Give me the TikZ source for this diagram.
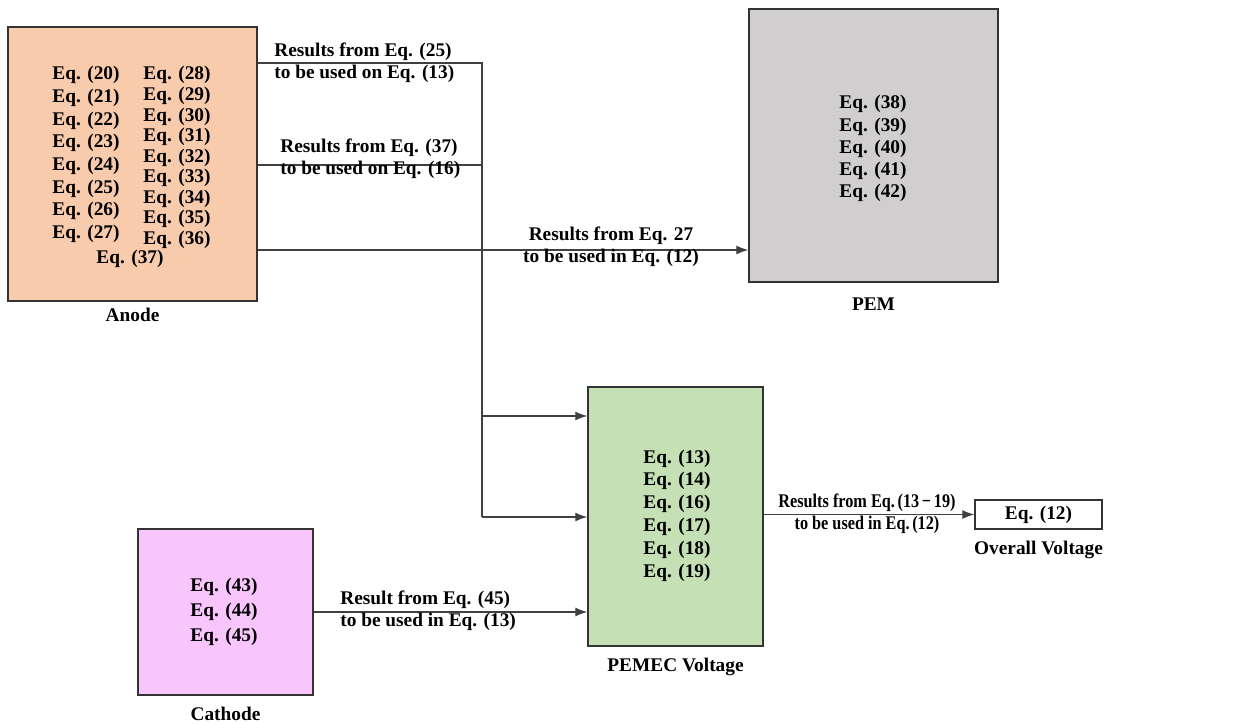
\documentclass[tikz,border=0pt]{standalone}
\usepackage{fontspec}
\setmainfont{Liberation Serif}
\usetikzlibrary{positioning,arrows.meta}

\definecolor{anodefill}{HTML}{F8CBAD}
\definecolor{pemfill}{HTML}{D0CECE}
\definecolor{pemecfill}{HTML}{C5E0B4}
\definecolor{cathfill}{HTML}{F9C5FD}

\tikzset{
  eqbox/.style={draw=black!80, line width=0.8pt, inner sep=0pt},
  eqlines/.style={font=\fontsize{11}{#1}\selectfont\bfseries, align=center, inner sep=0pt},
  boxname/.style={font=\fontsize{11}{13}\selectfont\bfseries, inner sep=0pt},
  flow/.style={draw=black!75, line width=0.7pt},
  tip/.style={-{Latex[length=2.4mm,width=1.8mm]}},
}

\begin{document}
\begin{tikzpicture}[x=0.02cm, y=-0.02cm]
  \useasboundingbox (0,0) rectangle (1236,723);

  % boxes
  \node[eqbox, fill=anodefill, minimum width=4.98cm, minimum height=5.48cm] (anode) at (132.5,164) {};
  \node[eqbox, fill=pemfill, minimum width=4.98cm, minimum height=5.46cm] (pem) at (873.5,145.5) {};
  \node[eqbox, fill=pemecfill, minimum width=3.5cm, minimum height=5.18cm] (pemec) at (675.5,516.5) {};
  \node[eqbox, fill=cathfill, minimum width=3.5cm, minimum height=3.32cm] (cathode) at (225.5,612) {};
  \node[eqbox, fill=white, minimum width=2.54cm, minimum height=0.58cm, font=\fontsize{11}{13}\selectfont\bfseries] (overall) at (1038.5,514.5) {Eq. (12)};

  % equations inside the boxes
  \node[eqlines=12.9pt] (anodeA) at (86,154.5) {Eq. (20)\\Eq. (21)\\Eq. (22)\\Eq. (23)\\Eq. (24)\\Eq. (25)\\Eq. (26)\\Eq. (27)};
  \node[eqlines=11.7pt] (anodeB) at (177,157.5) {Eq. (28)\\Eq. (29)\\Eq. (30)\\Eq. (31)\\Eq. (32)\\Eq. (33)\\Eq. (34)\\Eq. (35)\\Eq. (36)};
  \node[eqlines=12pt] (anodeC) at (130,259) {Eq. (37)};
  \node[eqlines=12.6pt] (pemeqs) at (873,148.5) {Eq. (38)\\Eq. (39)\\Eq. (40)\\Eq. (41)\\Eq. (42)};
  \node[eqlines=13pt] (pemeceqs) at (677,515.5) {Eq. (13)\\Eq. (14)\\Eq. (16)\\Eq. (17)\\Eq. (18)\\Eq. (19)};
  \node[eqlines=14.2pt] (catheqs) at (224,612) {Eq. (43)\\Eq. (44)\\Eq. (45)};

  % box names
  \node[boxname, below=0.12cm of anode] (anodename) {Anode};
  \node[boxname, below=0.3cm of pem] (pemname) {PEM};
  \node[boxname, below=0.22cm of pemec] (pemecname) {PEMEC Voltage};
  \node[boxname, below=0.22cm of overall] (overallname) {Overall Voltage};
  \node[boxname, below=0.22cm of cathode] (cathname) {Cathode};

  % junction points of the anode lines
  \coordinate (j25) at (482,63);
  \coordinate (j37) at (482,165);
  \coordinate (j16) at (482,416);
  \coordinate (j13) at (482,517);
  \coordinate (pemin) at (749,250);

  % connectors
  \draw[flow] (anode.east |- j25) -- (j25) -- (j13);
  \draw[flow] (anode.east |- j37) -- (j37);
  \draw[flow, tip] (j16) -- (pemec.west |- j16);
  \draw[flow, tip] (j13) -- (pemec.west |- j13);
  \draw[flow, tip] (anode.east |- pemin) -- (pem.west |- pemin);
  \draw[flow, tip] (cathode.east) -- (cathode.east -| pemec.west);
  \draw[flow, tip] (pemec.east |- overall.west) -- (overall.west);

  % connector labels
  \node[eqlines=12.5pt, align=left, anchor=west] (lab25) at (274,63) {Results from Eq. (25)\\to be used on Eq. (13)};
  \node[eqlines=12.5pt, align=left, anchor=west] (lab37) at (280,159) {Results from Eq. (37)\\to be used on Eq. (16)};
  \node[eqlines=12.5pt] (lab27) at (611,247) {Results from Eq. 27\\to be used in Eq. (12)};
  \node[eqlines=12.5pt, align=left, anchor=west] (lab45) at (340,611) {Result from Eq. (45)\\to be used in Eq. (13)};
  \node[eqlines=12.5pt, xscale=0.84, transform shape] (lab1319) at (867,514) {Results from Eq.\,(13\,−\,19)\\to be used in Eq.\,(12)};
\end{tikzpicture}
\end{document}
